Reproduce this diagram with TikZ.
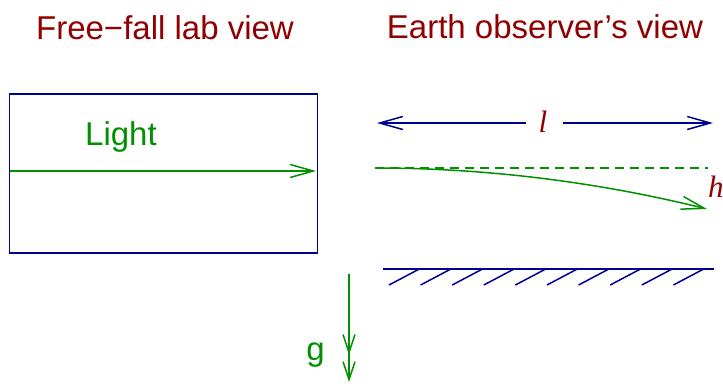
\documentclass[tikz,border=0pt]{standalone}
\usepackage{fontspec}
\setmainfont{Liberation Sans}
\newfontfamily\timesit{Liberation Serif}[ItalicFont={Liberation Serif Italic}]
\usetikzlibrary{arrows.meta}
\definecolor{tred}{HTML}{900000}
\definecolor{lblue}{HTML}{000090}
\definecolor{lgreen}{HTML}{009000}
\tikzset{
  titletext/.style={text=tred, inner sep=0pt, anchor=base, font=\fontsize{33}{40}\selectfont},
  greentext/.style={text=lgreen, inner sep=0pt, anchor=base, font=\fontsize{33}{40}\selectfont},
  mathlab/.style={text=tred, inner sep=0pt, anchor=base, font=\timesit\itshape\fontsize{31}{36}\selectfont},
  bluel/.style={draw=lblue, line width=1.5pt},
  greenl/.style={draw=lgreen, line width=1.5pt},
  barb/.style={-{Straight Barb[length=23pt,width=13pt,line width=1.5pt]}},
  dbarb/.style={-{Straight Barb[length=18pt,width=12pt,line width=1.5pt,sep=6pt]Straight Barb[length=18pt,width=12pt,line width=1.5pt]}}
}
\begin{document}
\begin{tikzpicture}[x=1pt,y=-1pt]
\useasboundingbox (0,0) rectangle (723,383);
% titles
\node[titletext] (t1) at (165,39) {Free\textminus fall lab view};
\node[titletext] (t2) at (545,38) {Earth observer’s view};
% lab box
\node[draw=lblue, line width=1.5pt, minimum width=308pt, minimum height=159pt, inner sep=0pt] (box) at (163.5,173.5) {};
\node[greentext] (light) at (121,145) {Light};
\coordinate (la) at (10,171);
\coordinate (lb) at (316,171);
\draw[greenl, barb] (la) -- (lb);
% length arrow
\node[mathlab] (ell) at (543,132) {l};
\coordinate (ll) at (377,123);
\coordinate (lr) at (713,123);
\coordinate (lla) at (526,123);
\coordinate (lrb) at (563,123);
\draw[bluel, barb] (lla) -- (ll);
\draw[bluel, barb] (lrb) -- (lr);
% light path
\coordinate (p0) at (375,168);
\coordinate (pd) at (708,168);
\coordinate (p1) at (707,209);
\draw[greenl, dashed, dash pattern=on 9pt off 6pt] (p0) -- (pd);
\draw[greenl, barb] (p0) .. controls (485.7,168) and (596.3,181.7) .. (p1);
\node[mathlab, anchor=base west] (hh) at (708,197) {h};
% ground
\coordinate (g0) at (383,269);
\coordinate (g1) at (714,269);
\draw[bluel] (g0) -- (g1);
\foreach \i in {0,...,9}{
  \draw[bluel] ({389+31.6*\i},285) -- ({419.3+31.6*\i},269);
}
% gravity
\coordinate (ga) at (349,274);
\coordinate (gb) at (349,382);
\draw[greenl, dbarb] (ga) -- (gb);
\node[greentext] (gl) at (315.5,360) {g};
\end{tikzpicture}
\end{document}
